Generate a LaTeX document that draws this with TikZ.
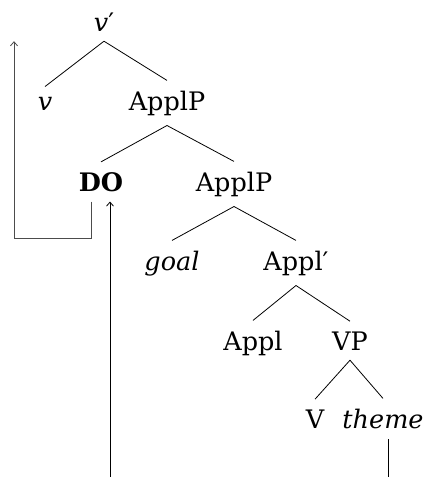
\documentclass[tikz,border=0pt]{standalone}
\usepackage{fontspec}
\setmainfont{DejaVu Serif}
\usetikzlibrary{arrows.meta}
\begin{document}
\begin{tikzpicture}[x=1pt,y=-1pt,
  lbl/.style={font=\fontsize{25.5}{30}\selectfont, inner sep=10pt, anchor=base},
  edge/.style={line width=0.8pt},
  mv/.style={-{Straight Barb[length=4pt,width=7pt]}, line width=0.8pt},
  mvgray/.style={mv, black!70}]
\useasboundingbox (0,0) rectangle (425,477);
\node[lbl] (vbar) at (104,31) {\textit{v}′};
\node[lbl] (v) at (45,110) {\textit{v}};
\node[lbl] (applp1) at (167,110) {ApplP};
\node[lbl] (do) at (101,191) {\textbf{DO}};
\node[lbl] (applp2) at (234,191) {ApplP};
\node[lbl] (goal) at (172,270) {\textit{goal}};
\node[lbl] (applbar) at (296,270) {Appl′};
\node[lbl] (appl) at (253,350) {Appl};
\node[lbl] (vp) at (350,350) {VP};
\node[lbl] (V) at (315,428) {V};
\node[lbl] (theme) at (383,428) {\textit{theme}};
\draw[edge] (vbar.south) -- (v.north);
\draw[edge] (vbar.south) -- (applp1.north);
\draw[edge] (applp1.south) -- (do.north);
\draw[edge] (applp1.south) -- (applp2.north);
\draw[edge] (applp2.south) -- (goal.north);
\draw[edge] (applp2.south) -- (applbar.north);
\draw[edge] (applbar.south) -- (appl.north);
\draw[edge] (applbar.south) -- (vp.north);
\draw[edge] (vp.south) -- (V.north);
\draw[edge] (vp.south) -- (theme.north);
\coordinate (dobot) at (110,477);
\draw[mv] (dobot) -- (dobot |- do.south);
\coordinate (turn) at (14,238);
\draw[mvgray] ([xshift=-10pt]do.south) |- (turn) -- (turn |- vbar.south);
\coordinate (thbot) at (388,477);
\draw[edge] (thbot) -- (thbot |- theme.south);
\end{tikzpicture}
\end{document}
